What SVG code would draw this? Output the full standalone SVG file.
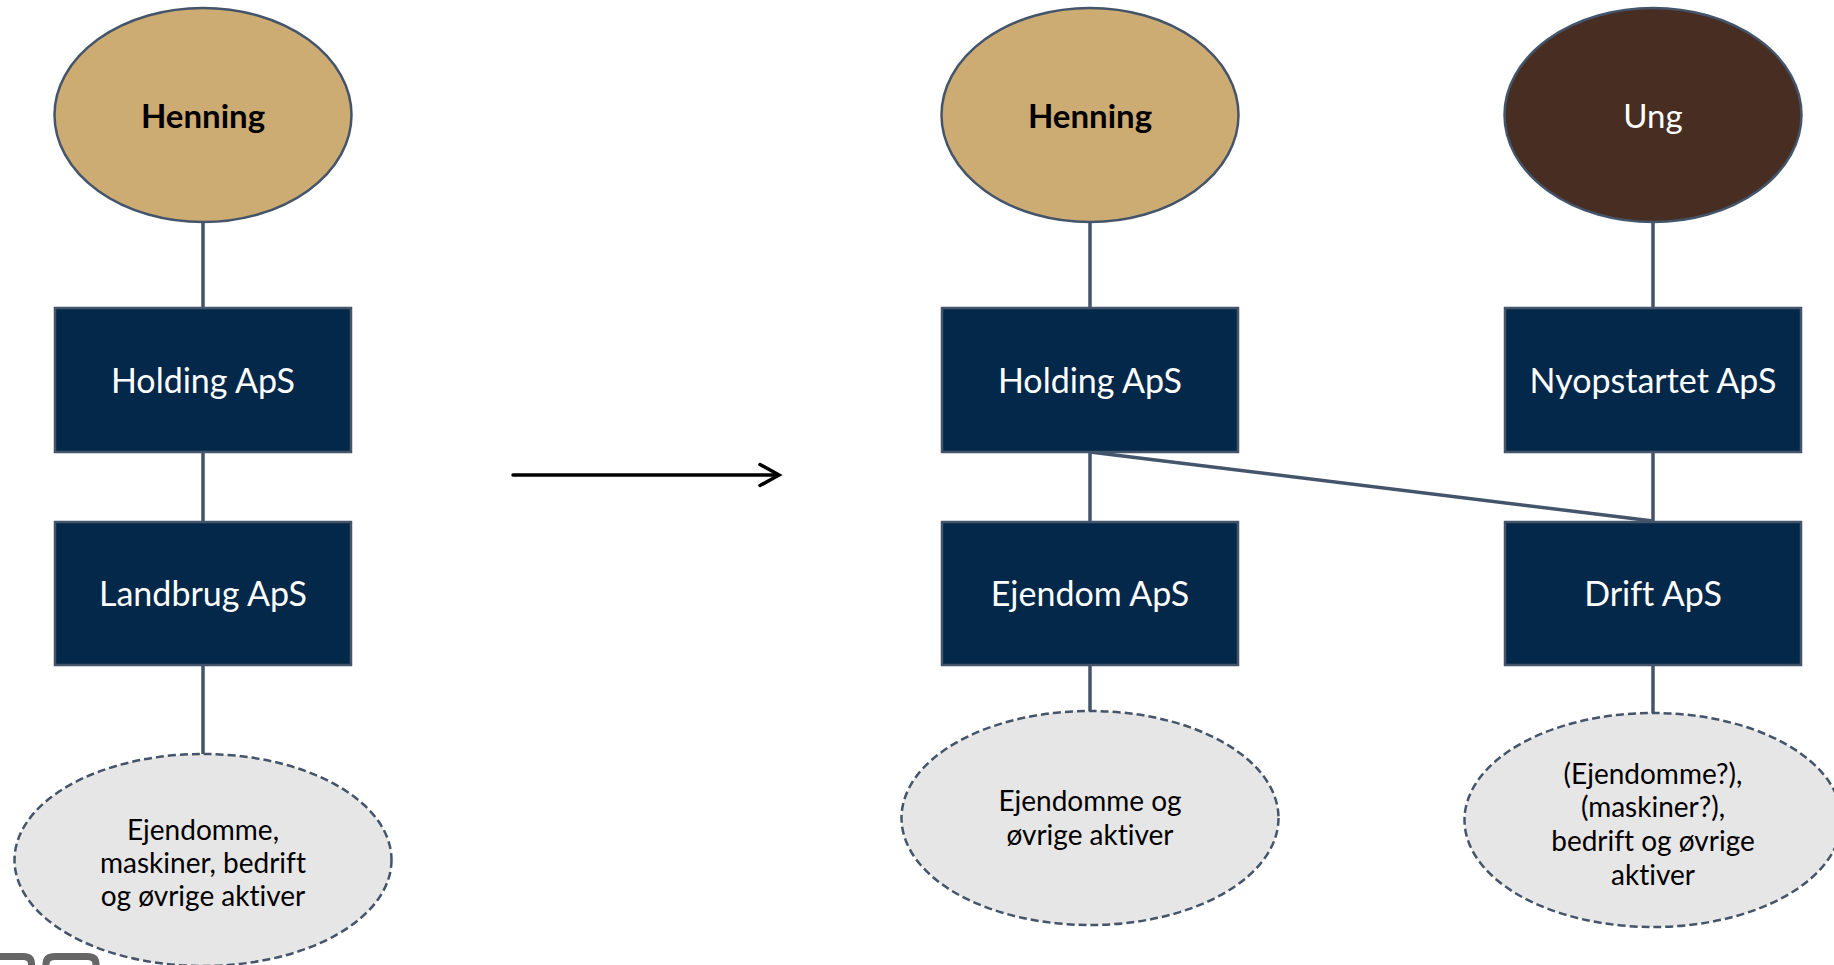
<svg xmlns="http://www.w3.org/2000/svg" width="1834" height="965" viewBox="0 0 1834 965">
<defs>
<style>
.owner{fill:#CDAC74;stroke:#44546A;stroke-width:2.5}
.young{fill:#472D22;stroke:#44546A;stroke-width:2.5}
.box{fill:#03284A;stroke:#44546A;stroke-width:2.5}
.asset{fill:#E7E6E6;stroke:#44546A;stroke-width:2.5;stroke-dasharray:8 4}
.conn{stroke:#44546A;stroke-width:3.5;fill:none}
text{font-variant-ligatures:none;font-feature-settings:"liga" 0}
.t-box{font-family:Lato,"Open Sans",sans-serif;font-size:34px;fill:#FFFFFF;text-anchor:middle}
.t-owner{font-family:Lato,"Open Sans",sans-serif;font-size:33px;font-weight:bold;fill:#000000;text-anchor:middle}
.t-young{font-family:Lato,"Open Sans",sans-serif;font-size:33px;fill:#FFFFFF;text-anchor:middle}
.t-asset{font-family:Lato,"Open Sans",sans-serif;font-size:28px;fill:#000000;text-anchor:middle}
</style>
</defs>
<rect width="1834" height="965" fill="#FFFFFF"/>

<g id="connectors">
<line class="conn" x1="203" y1="222" x2="203" y2="308"/>
<line class="conn" x1="203" y1="452" x2="203" y2="522"/>
<line class="conn" x1="203" y1="665" x2="203" y2="754"/>
<line class="conn" x1="1090" y1="222" x2="1090" y2="308"/>
<line class="conn" x1="1090" y1="452" x2="1090" y2="522"/>
<line class="conn" x1="1090" y1="665" x2="1090" y2="711"/>
<line class="conn" x1="1653" y1="222" x2="1653" y2="308"/>
<line class="conn" x1="1653" y1="452" x2="1653" y2="522"/>
<line class="conn" x1="1653" y1="665" x2="1653" y2="713"/>
<line class="conn" x1="1090" y1="452" x2="1653" y2="521" stroke-width="4"/>
<g id="transition-arrow" stroke="#000000" stroke-width="3.5" fill="none" stroke-linecap="round">
<line x1="513" y1="475" x2="778" y2="475"/>
<polyline points="760,464.5 779,475 760,485.5" stroke-linejoin="miter"/>
</g>
</g>

<g id="henning-left">
<ellipse class="owner" cx="203" cy="115" rx="148.5" ry="107"/>
<text class="t-owner" x="203" y="128">Henning</text>
</g>
<g id="holding-left">
<rect class="box" x="55" y="308" width="296" height="144"/>
<text class="t-box" x="203" y="393">Holding ApS</text>
</g>
<g id="landbrug">
<rect class="box" x="55" y="522" width="296" height="143"/>
<text class="t-box" x="203" y="606">Landbrug ApS</text>
</g>
<g id="assets-left">
<ellipse class="asset" cx="203" cy="860" rx="188.5" ry="106"/>
<text class="t-asset" x="203" y="840">Ejendomme,</text>
<text class="t-asset" x="203" y="873">maskiner, bedrift</text>
<text class="t-asset" x="203" y="906">og øvrige aktiver</text>
</g>

<g id="henning-right">
<ellipse class="owner" cx="1090" cy="115" rx="148.5" ry="107"/>
<text class="t-owner" x="1090" y="128">Henning</text>
</g>
<g id="holding-right">
<rect class="box" x="942" y="308" width="296" height="144"/>
<text class="t-box" x="1090" y="393">Holding ApS</text>
</g>
<g id="ejendom">
<rect class="box" x="942" y="522" width="296" height="143"/>
<text class="t-box" x="1090" y="606">Ejendom ApS</text>
</g>
<g id="assets-middle">
<ellipse class="asset" cx="1090" cy="818" rx="188.5" ry="107"/>
<text class="t-asset" x="1090" y="811">Ejendomme og</text>
<text class="t-asset" x="1090" y="845">øvrige aktiver</text>
</g>

<g id="ung">
<ellipse class="young" cx="1653" cy="115" rx="148.5" ry="107"/>
<text class="t-young" x="1653" y="128">Ung</text>
</g>
<g id="nyopstartet">
<rect class="box" x="1505" y="308" width="296" height="144"/>
<text class="t-box" x="1653" y="393">Nyopstartet ApS</text>
</g>
<g id="drift">
<rect class="box" x="1505" y="522" width="296" height="143"/>
<text class="t-box" x="1653" y="606">Drift ApS</text>
</g>
<g id="assets-right">
<ellipse class="asset" cx="1653" cy="820" rx="188.5" ry="107"/>
<text class="t-asset" x="1653" y="784">(Ejendomme?),</text>
<text class="t-asset" x="1653" y="817">(maskiner?),</text>
<text class="t-asset" x="1653" y="851">bedrift og øvrige</text>
<text class="t-asset" x="1653" y="885">aktiver</text>
</g>

<g id="logo-fragment" stroke="#666666" stroke-width="7" fill="none">
<path d="M0 956.5 H23 Q31.5 956.5 31.5 964 V968"/>
<path d="M46 968 V964 Q46 956.5 55 956.5 H87 Q96 956.5 96 964 V968"/>
</g>
</svg>
